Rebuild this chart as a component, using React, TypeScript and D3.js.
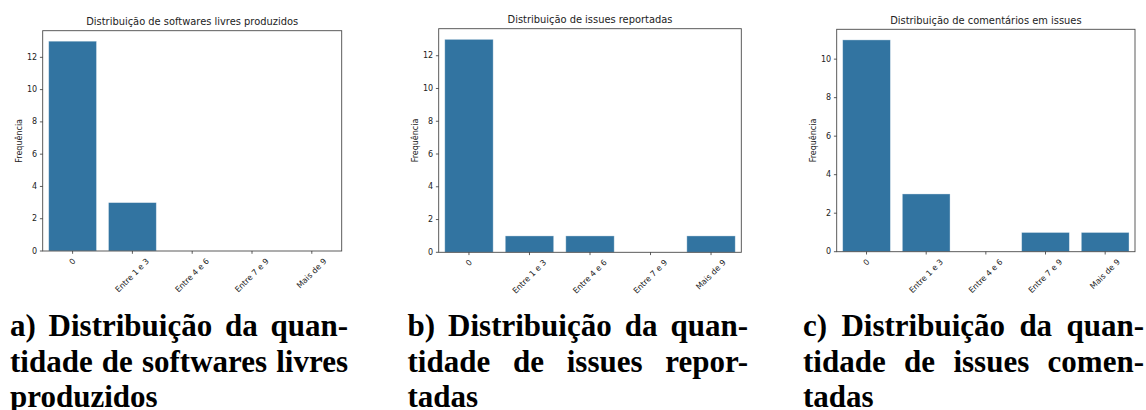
import React, { useEffect, useRef } from 'react';
import * as d3 from 'd3';

// ---- data ----
const categories: string[] = ['0', 'Entre 1 e 3', 'Entre 4 e 6', 'Entre 7 e 9', 'Mais de 9'];
const softwaresLivresValues: number[] = [13, 3, 0, 0, 0];
const issuesReportadasValues: number[] = [13, 1, 1, 0, 1];
const comentariosIssuesValues: number[] = [11, 3, 0, 1, 1];
const chartTitles: string[] = [
  'Distribuição de softwares livres produzidos',
  'Distribuição de issues reportadas',
  'Distribuição de comentários em issues',
];
const yAxisLabel = 'Frequência';
const yTicksA: number[] = [0, 2, 4, 6, 8, 10, 12];
const yTicksB: number[] = [0, 2, 4, 6, 8, 10, 12];
const yTicksC: number[] = [0, 2, 4, 6, 8, 10];
const captionA: string[] = ['a) Distribuição da quan-', 'tidade de softwares livres', 'produzidos'];
const captionB: string[] = ['b) Distribuição da quan-', 'tidade de issues repor-', 'tadas'];
const captionC: string[] = ['c) Distribuição da quan-', 'tidade de issues comen-', 'tadas'];

// ---- layout ----
const W = 1146;
const H = 410;
const panels = [
  { values: softwaresLivresValues, title: chartTitles[0], ticks: yTicksA, caption: captionA,
    left: 42.7, right: 341.7, top: 30.7, bottom: 251, capL: 10, capR: 348 },
  { values: issuesReportadasValues, title: chartTitles[1], ticks: yTicksB, caption: captionB,
    left: 438.7, right: 741.3, top: 28.7, bottom: 252.3, capL: 407.5, capR: 748 },
  { values: comentariosIssuesValues, title: chartTitles[2], ticks: yTicksC, caption: captionC,
    left: 836.7, right: 1135, top: 29.3, bottom: 251.7, capL: 803, capR: 1144 },
];
const BAR = '#3274a1';
const SANS = '"DejaVu Sans", sans-serif';
const SERIF = "'Liberation Serif', Tinos, 'Times New Roman', Times, 'Nimbus Roman', FreeSerif, serif";
const TICK_FS = 8;
const TITLE_FS = 9.9;
const CAP_FS = 31;
const CAP_BASELINES = [336, 371.5, 406.5];
const TICK_LEN = 2.8;
const TICK_PAD = 2.8;

export default function App() {
  const ref = useRef<SVGSVGElement | null>(null);

  useEffect(() => {
    const svg = d3.select(ref.current);
    svg.selectAll('*').remove();

    // common horizontal scale for captions so that the widest natural line fits
    const probe = svg.append('text')
      .style('font-family', SERIF).attr('font-size', CAP_FS).attr('font-weight', 'bold')
      .text('tidade de softwares livres');
    const probeW = (probe.node() as SVGTextElement).getComputedTextLength();
    probe.remove();
    const capScale = Math.min(1, (348 - 10) / (probeW + 1));

    panels.forEach((p) => {
      const g = svg.append('g');
      const maxV = d3.max(p.values) as number;
      const y = d3.scaleLinear().domain([0, maxV * 1.05]).range([p.bottom, p.top]);
      const x = d3.scaleBand<string>().domain(categories).range([p.left, p.right])
        .paddingInner(0.2).paddingOuter(0.1);

      // bars
      g.selectAll('rect.bar')
        .data(p.values.map((v, i) => ({ v, c: categories[i] })).filter((d) => d.v > 0))
        .enter()
        .append('rect')
        .attr('class', 'bar')
        .attr('x', (d) => x(d.c) as number)
        .attr('y', (d) => y(d.v))
        .attr('width', x.bandwidth())
        .attr('height', (d) => y(0) - y(d.v))
        .attr('fill', BAR)
        .attr('stroke', '#ffffff')
        .attr('stroke-opacity', 0.45)
        .attr('stroke-width', 0.8);

      // frame
      g.append('rect')
        .attr('x', p.left).attr('y', p.top)
        .attr('width', p.right - p.left).attr('height', p.bottom - p.top)
        .attr('fill', 'none').attr('stroke', '#4a4a4a').attr('stroke-width', 0.9);

      // y ticks
      p.ticks.forEach((t) => {
        g.append('line')
          .attr('x1', p.left - TICK_LEN).attr('x2', p.left)
          .attr('y1', y(t)).attr('y2', y(t))
          .attr('stroke', '#333').attr('stroke-width', 0.8);
        g.append('text')
          .attr('x', p.left - TICK_LEN - TICK_PAD)
          .attr('y', y(t))
          .attr('text-anchor', 'end')
          .attr('dominant-baseline', 'central')
          .attr('font-family', SANS).attr('font-size', TICK_FS).attr('fill', '#222')
          .text(String(t));
      });

      // x ticks
      categories.forEach((c) => {
        const cx = (x(c) as number) + x.bandwidth() / 2;
        g.append('line')
          .attr('x1', cx).attr('x2', cx)
          .attr('y1', p.bottom).attr('y2', p.bottom + TICK_LEN)
          .attr('stroke', '#333').attr('stroke-width', 0.8);
        const t = g.append('text')
          .attr('text-anchor', 'middle')
          .attr('dominant-baseline', 'central')
          .attr('font-family', SANS).attr('font-size', TICK_FS).attr('fill', '#222')
          .text(c);
        const w = (t.node() as SVGTextElement).getComputedTextLength();
        const h = TICK_FS * 1.164;
        const side = (w + h) / Math.SQRT2;
        const cy = p.bottom + TICK_LEN + TICK_PAD + side / 2;
        t.attr('x', cx).attr('y', cy).attr('transform', `rotate(-45, ${cx}, ${cy})`);
      });

      // y label
      const ly = (p.top + p.bottom) / 2;
      const lx = p.left - 21;
      g.append('text')
        .attr('x', lx).attr('y', ly)
        .attr('text-anchor', 'middle')
        .attr('transform', `rotate(-90, ${lx}, ${ly})`)
        .attr('font-family', SANS).attr('font-size', TICK_FS).attr('fill', '#222')
        .text(yAxisLabel);

      // title
      g.append('text')
        .attr('x', (p.left + p.right) / 2)
        .attr('y', p.top - 5.5)
        .attr('text-anchor', 'middle')
        .attr('font-family', SANS).attr('font-size', TITLE_FS).attr('fill', '#222')
        .text(p.title);

      // caption (justified)
      const cap = svg.append('g')
        .attr('transform', `translate(${p.capL},0) scale(${capScale},1)`);
      const colW = (p.capR - p.capL) / capScale;
      p.caption.forEach((line, li) => {
        const base = CAP_BASELINES[li];
        const last = li === p.caption.length - 1;
        if (last) {
          cap.append('text')
            .attr('x', 0).attr('y', base)
            .style('font-family', SERIF).attr('font-size', CAP_FS).attr('font-weight', 'bold')
            .attr('fill', '#000')
            .text(line);
          return;
        }
        const words = line.split(' ');
        const nodes = words.map((wd) =>
          cap.append('text')
            .attr('y', base)
            .style('font-family', SERIF).attr('font-size', CAP_FS).attr('font-weight', 'bold')
            .attr('fill', '#000')
            .text(wd)
        );
        const widths = nodes.map((n) => (n.node() as SVGTextElement).getComputedTextLength());
        const total = d3.sum(widths);
        const gap = words.length > 1 ? (colW - total) / (words.length - 1) : 0;
        let cur = 0;
        nodes.forEach((n, i) => {
          n.attr('x', cur);
          cur += widths[i] + gap;
        });
      });
    });
  }, []);

  return (
    <svg
      ref={ref}
      width={W}
      height={H}
      style={{ position: 'absolute', left: 0, top: 0, display: 'block', background: '#fff' }}
    />
  );
}
